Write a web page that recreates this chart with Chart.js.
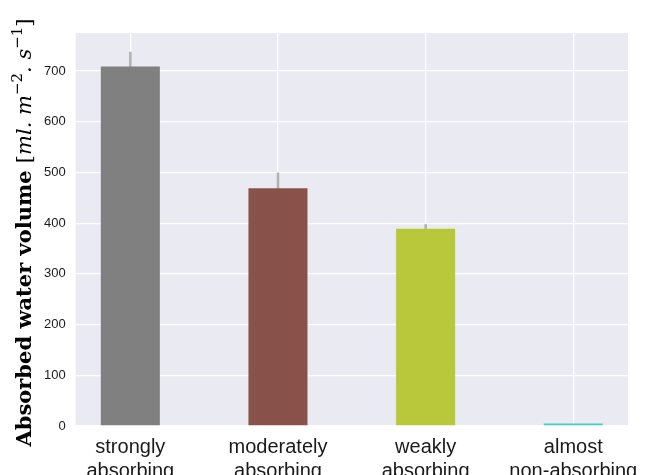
<!DOCTYPE html>
<html>
<head>
<meta charset="utf-8">
<script src="https://cdn.jsdelivr.net/npm/chart.js@4/dist/chart.umd.min.js"></script>
<style>
  html, body { margin: 0; padding: 0; background: #ffffff; overflow: hidden; }
  #wrap { width: 648px; height: 494px; }
</style>
</head>
<body>
<div id="wrap"><canvas id="absorbChart"></canvas></div>
<script>
// data
const categories = [
    ['strongly', 'absorbing'],
    ['moderately', 'absorbing'],
    ['weakly', 'absorbing'],
    ['almost', 'non-absorbing']
];
const volumes = [709, 469, 389, 5];
const errorsUp = [29, 31, 9, 0];
const yTicks = [0, 100, 200, 300, 400, 500, 600, 700];
const barColors = ['#808080', '#88524a', '#b9c83a', '#44cfc6'];

const canvas = document.getElementById('absorbChart');

// seaborn-style grey panel behind the plot
const panelBackground = {
    id: 'panelBackground',
    beforeDraw(chart) {
        const { ctx, chartArea: a } = chart;
        ctx.save();
        ctx.fillStyle = '#eaeaf2';
        ctx.fillRect(a.left, a.top, a.right - a.left, a.bottom - a.top);
        ctx.restore();
    }
};

// error bars drawn under the bars so only the upper half shows
const errorBars = {
    id: 'errorBars',
    beforeDatasetsDraw(chart) {
        const { ctx, scales: { x, y } } = chart;
        ctx.save();
        ctx.strokeStyle = '#b3b3b3';
        ctx.lineWidth = 2.6;
        volumes.forEach((v, i) => {
            if (!errorsUp[i]) return;
            const px = x.getPixelForValue(i);
            ctx.beginPath();
            ctx.moveTo(px, y.getPixelForValue(v - errorsUp[i]));
            ctx.lineTo(px, y.getPixelForValue(v + errorsUp[i]));
            ctx.stroke();
        });
        ctx.restore();
    }
};

// y axis title: bold serif words + italic unit with superscripts
const yTitle = {
    id: 'yTitle',
    afterDraw(chart) {
        const { ctx, chartArea: a } = chart;
        const parts = [
            { t: 'Absorbed water volume ', f: 'bold 21px "DejaVu Serif"', dy: 0 },
            { t: '[', f: '21px "DejaVu Serif"', dy: 0 },
            { t: 'ml. m', f: 'italic 21px "DejaVu Serif"', dy: 0 },
            { t: '\u22122', f: '15px "DejaVu Serif"', dy: -9 },
            { t: '. s', f: 'italic 21px "DejaVu Serif"', dy: 0 },
            { t: '\u22121', f: '15px "DejaVu Serif"', dy: -9 },
            { t: ']', f: '21px "DejaVu Serif"', dy: 0 }
        ];
        ctx.save();
        let total = 0;
        parts.forEach(p => { ctx.font = p.f; p.w = ctx.measureText(p.t).width; total += p.w; });
        ctx.translate(31, (a.top + a.bottom) / 2 + 3);
        ctx.rotate(-Math.PI / 2);
        ctx.fillStyle = '#000000';
        ctx.textBaseline = 'alphabetic';
        let cx = -total / 2;
        parts.forEach(p => {
            ctx.font = p.f;
            ctx.fillText(p.t, cx, p.dy);
            cx += p.w;
        });
        ctx.restore();
    }
};

new Chart(canvas, {
    type: 'bar',
    data: {
        datasets: [{
            data: volumes.map((v, i) => ({ x: i, y: v })),
            backgroundColor: barColors,
            borderWidth: 0,
            barPercentage: 0.4,
            categoryPercentage: 1.0
        }]
    },
    options: {
        responsive: true,
        maintainAspectRatio: false,
        animation: false,
        layout: { padding: { left: 34, right: 18, top: 33, bottom: 2 } },
        plugins: {
            legend: { display: false },
            tooltip: { enabled: false }
        },
        scales: {
            x: {
                type: 'linear',
                min: -0.37,
                max: 3.37,
                offset: false,
                afterBuildTicks: s => { s.ticks = categories.map((c, i) => ({ value: i })); },
                grid: { color: '#ffffff', lineWidth: 1.3, drawTicks: false, offset: false },
                border: { display: false },
                ticks: {
                    callback: v => categories[v],
                    color: '#1a1a1a',
                    padding: 9,
                    maxRotation: 0,
                    autoSkip: false,
                    font: { family: '"Liberation Sans", Arial, sans-serif', size: 20, lineHeight: 1.2 }
                }
            },
            y: {
                min: 0,
                max: 775,
                afterBuildTicks: s => { s.ticks = yTicks.map(v => ({ value: v })); },
                grid: { color: '#ffffff', lineWidth: 1.3, drawTicks: false },
                border: { display: false },
                ticks: {
                    color: '#1a1a1a',
                    padding: 10,
                    font: { family: '"Liberation Sans", Arial, sans-serif', size: 13 }
                }
            }
        }
    },
    plugins: [panelBackground, errorBars, yTitle]
});
</script>
</body>
</html>
